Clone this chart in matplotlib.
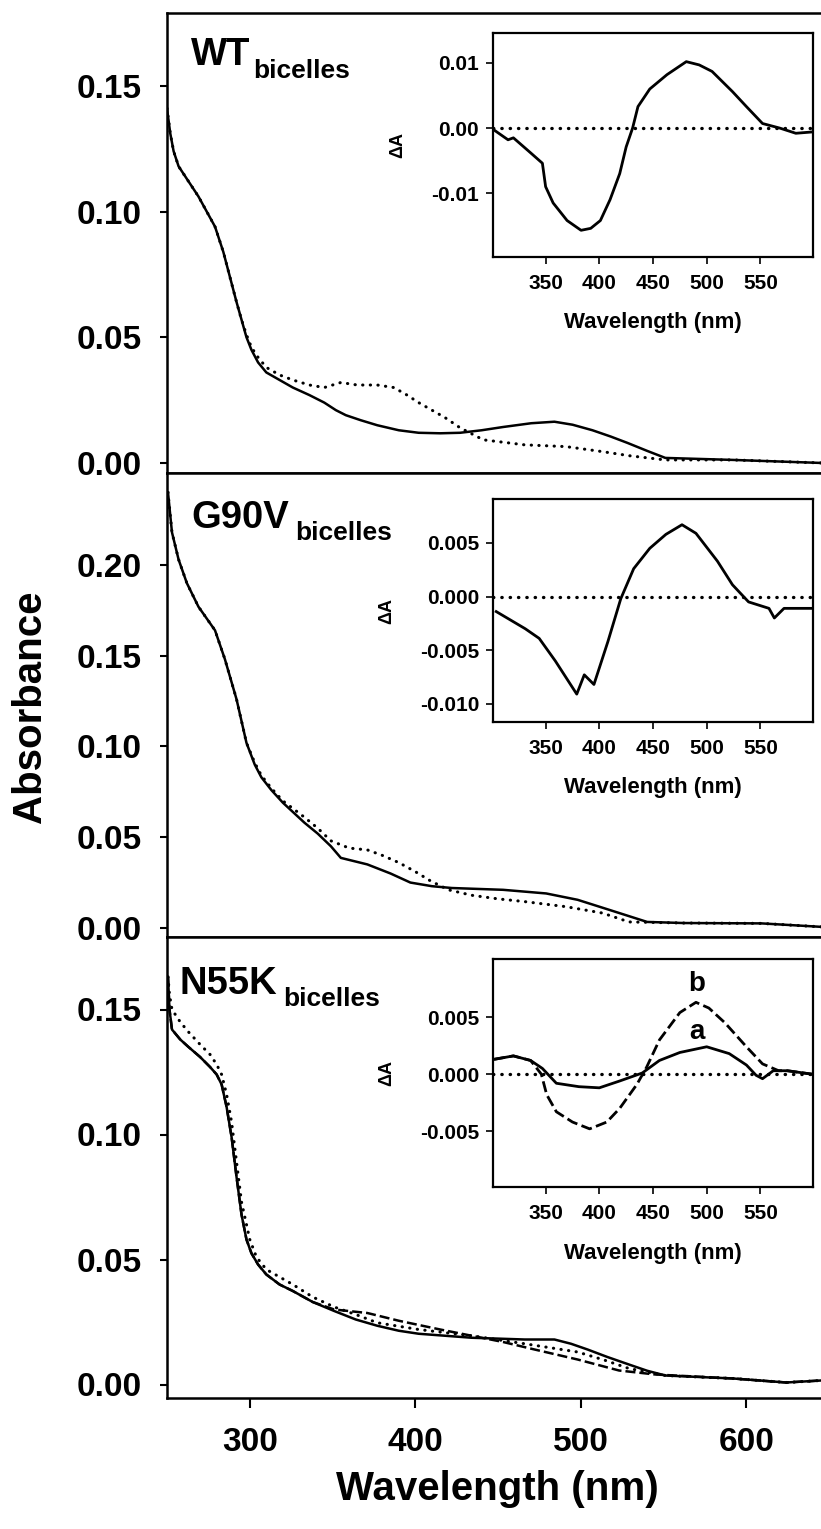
import matplotlib
matplotlib.use("Agg")
import matplotlib.pyplot as plt
from matplotlib.ticker import FormatStrFormatter

plt.rcParams["font.family"] = ["Liberation Sans", "DejaVu Sans"]
plt.rcParams["font.weight"] = "bold"

W, H = 821, 1529

# ---------- main spectra ----------
wt_wl = [250, 252, 254, 257, 269, 279, 284, 288, 292, 295, 298, 301, 305, 310, 318, 326, 336, 345, 352, 358, 367,
         377, 390, 402, 415, 427, 440, 453, 470, 484, 495, 507, 518, 528, 540, 551, 592, 645]
wt_solid = [0.141, 0.131, 0.124, 0.118, 0.106, 0.094, 0.084, 0.074, 0.064, 0.057, 0.050, 0.045, 0.040, 0.036,
            0.033, 0.030, 0.027, 0.024, 0.021, 0.019, 0.017, 0.015, 0.013, 0.012, 0.0118, 0.012, 0.013, 0.0143,
            0.0158, 0.0164, 0.0152, 0.013, 0.0105, 0.008, 0.0048, 0.002, 0.0012, 0.0]
wt_dot_wl = [250, 252, 254, 257, 269, 279, 284, 288, 292, 295, 298, 301, 305, 310, 318, 326, 336, 345, 355, 365,
             377, 387, 395, 402, 410, 418, 427, 441, 466, 491, 513, 530, 551, 592, 645]
wt_dot = [0.141, 0.131, 0.124, 0.118, 0.106, 0.094, 0.084, 0.074, 0.064, 0.057, 0.051, 0.046, 0.042, 0.038, 0.035,
          0.033, 0.031, 0.030, 0.032, 0.031, 0.031, 0.030, 0.027, 0.024, 0.021, 0.018, 0.014, 0.0092, 0.0072,
          0.0065, 0.0045, 0.0028, 0.0012, 0.0012, 0.0]

g_wl = [250.6, 253, 257, 262, 269, 279, 285, 292, 298, 303, 307, 313, 320, 333, 341, 349, 355, 371, 385, 397, 410,
        422, 453, 479, 498, 517, 540, 562, 609, 645]
g_solid = [0.240, 0.218, 0.203, 0.190, 0.177, 0.164, 0.148, 0.126, 0.102, 0.090, 0.083, 0.076, 0.069, 0.058, 0.052,
           0.045, 0.0386, 0.035, 0.030, 0.025, 0.023, 0.022, 0.021, 0.019, 0.0155, 0.010, 0.0033, 0.0027, 0.0025,
           0.0006]
g_dot_wl = [250.6, 253, 257, 262, 269, 279, 285, 292, 298, 303, 307, 313, 320, 333, 341, 349, 360, 371, 380, 390,
            400, 409, 420, 434, 450, 466, 491, 513, 529, 562, 609, 645]
g_dot = [0.240, 0.218, 0.203, 0.190, 0.177, 0.164, 0.148, 0.126, 0.102, 0.091, 0.084, 0.077, 0.070, 0.061, 0.055,
         0.048, 0.044, 0.043, 0.040, 0.036, 0.031, 0.026, 0.021, 0.018, 0.016, 0.0145, 0.0117, 0.0082, 0.0033,
         0.0027, 0.0025, 0.0006]

n_wl = [250.6, 251.5, 253, 258, 263, 270, 276, 280, 283, 286, 289, 292, 295, 298, 301, 305, 310, 318, 326, 338,
        351, 364, 377, 390, 402, 434, 466, 484, 494, 504, 516, 529, 540, 551, 592, 624, 645]
n_solid = [0.163, 0.150, 0.142, 0.138, 0.135, 0.131, 0.127, 0.124, 0.120, 0.111, 0.099, 0.083, 0.068, 0.058,
           0.0525, 0.048, 0.044, 0.040, 0.0374, 0.033, 0.0294, 0.026, 0.0235, 0.0215, 0.0203, 0.0187, 0.018, 0.018,
           0.0163, 0.014, 0.011, 0.008, 0.0055, 0.0036, 0.0024, 0.0008, 0.0016]
n_dot_wl = [250.6, 251.5, 253, 258, 263, 270, 276, 280, 283, 286, 289, 292, 295, 300, 304, 310, 318, 326, 338, 351,
            364, 377, 402, 434, 466, 498, 514, 529, 551, 592, 624, 645]
n_dot = [0.163, 0.156, 0.150, 0.145, 0.141, 0.136, 0.132, 0.128, 0.124, 0.116, 0.105, 0.089, 0.073, 0.058, 0.051,
         0.046, 0.043, 0.040, 0.035, 0.031, 0.028, 0.0247, 0.022, 0.0195, 0.0163, 0.013, 0.0098, 0.0064, 0.0036,
         0.0024, 0.0008, 0.0016]
n_dash_wl = [250.6, 251.5, 253, 258, 263, 270, 276, 280, 283, 286, 289, 292, 295, 298, 301, 305, 310, 318, 326, 338,
             351, 371, 390, 415, 434, 453, 472, 498, 523, 545, 592, 624, 645]
n_dash = [0.163, 0.150, 0.142, 0.138, 0.135, 0.131, 0.127, 0.124, 0.120, 0.111, 0.099, 0.083, 0.068, 0.058, 0.0525,
          0.048, 0.044, 0.040, 0.0374, 0.033, 0.030, 0.0286, 0.0255, 0.022, 0.0195, 0.017, 0.014, 0.010, 0.0056,
          0.004, 0.0024, 0.0008, 0.0016]

# ---------- difference spectra (insets) ----------
wt_d_wl = [302, 315, 320, 336, 347, 350, 357, 370, 383, 392, 401, 410, 419, 425, 431, 436, 447, 463, 481, 493, 505,
           524, 537, 552, 568, 583, 598]
wt_d = [-0.0003, -0.0018, -0.0015, -0.0038, -0.0054, -0.009, -0.0115, -0.0142, -0.0157, -0.0154, -0.0142, -0.011,
        -0.007, -0.0029, 0.0, 0.0033, 0.006, 0.0082, 0.0102, 0.0097, 0.0087, 0.0056, 0.0033, 0.0007, 0.0, -0.0008,
        -0.0006]
g_d_wl = [304, 331, 344, 359, 379, 386, 395, 408, 420, 432, 447, 462, 477, 490, 510, 524, 539, 558, 563, 572, 597]
g_d = [-0.0014, -0.003, -0.0039, -0.006, -0.0091, -0.0073, -0.0082, -0.0042, -0.0002, 0.0026, 0.0045, 0.0058,
       0.0067, 0.0059, 0.0033, 0.0011, -0.0005, -0.0011, -0.002, -0.0011, -0.0011]
n_a_wl = [302, 320, 336, 347, 360, 381, 400, 419, 440, 456, 475, 500, 521, 537, 546, 552, 562, 575, 598]
n_a = [0.0013, 0.0016, 0.0012, 0.0005, -0.0008, -0.0011, -0.0012, -0.0006, 0.0001, 0.0012, 0.0019, 0.0024, 0.0018,
       0.0008, -0.0001, -0.0004, 0.0003, 0.0003, 0.0]
n_b_wl = [302, 320, 336, 346, 351, 360, 375, 391, 407, 419, 435, 444, 456, 475, 490, 502, 517, 537, 552, 567, 575, 598]
n_b = [0.0013, 0.0016, 0.0012, 0.0, -0.0018, -0.0033, -0.0042, -0.0048, -0.0042, -0.003, -0.0009, 0.0006, 0.003,
       0.0054, 0.0063, 0.0058, 0.0045, 0.0024, 0.0009, 0.0003, 0.0003, 0.0]

main_ticks = [[0.0, 0.05, 0.10, 0.15], [0.0, 0.05, 0.10, 0.15, 0.20], [0.0, 0.05, 0.10, 0.15]]
main_ylims = [(-0.004, 0.179), (-0.005, 0.2507), (-0.0054, 0.179)]
inset_ticks = [[-0.01, 0.0, 0.01], [-0.010, -0.005, 0.0, 0.005], [-0.005, 0.0, 0.005]]
inset_fmt = ["%.2f", "%.3f", "%.3f"]
inset_ylims = [(-0.0198, 0.0146), (-0.0117, 0.0091), (-0.0099, 0.0101)]
names = ["WT", "G90V", "N55K"]

DOT = (0, (0.1, 2.4))
DASH = (0, (4, 1.6))


def fx(x):
    return x / W


def fy(y):
    return 1 - y / H


fig = plt.figure(figsize=(W / 100, H / 100), dpi=100)

# main panels (pixel top/bottom)
panel_px = [(13, 473), (473, 937), (937, 1398)]
inset_px = [(33, 257), (499, 722), (959, 1187)]
axes = []
insets = []
for i in range(3):
    t, b = panel_px[i]
    ax = fig.add_axes([fx(167), fy(b), 1 - fx(167), (b - t) / H])
    ax.set_xlim(250, 645)
    ax.set_ylim(*main_ylims[i])
    ax.set_yticks(main_ticks[i])
    ax.yaxis.set_major_formatter(FormatStrFormatter("%.2f"))
    ax.spines["right"].set_visible(False)
    for s in ["left", "top", "bottom"]:
        ax.spines[s].set_linewidth(1.8)
    ax.tick_params(axis="y", direction="out", length=5, width=1.5, pad=13, labelsize=24)
    if i < 2:
        ax.tick_params(axis="x", bottom=False, labelbottom=False)
    else:
        ax.set_xticks([300, 400, 500, 600])
        ax.tick_params(axis="x", direction="out", length=7, width=1.5, pad=14, labelsize=24)
    axes.append(ax)

    t, b = inset_px[i]
    ins = fig.add_axes([fx(493), fy(b), fx(813) - fx(493), (b - t) / H])
    ins.set_xlim(301, 599)
    ins.set_ylim(*inset_ylims[i])
    ins.set_xticks([350, 400, 450, 500, 550])
    ins.set_yticks(inset_ticks[i])
    ins.yaxis.set_major_formatter(FormatStrFormatter(inset_fmt[i]))
    for s in ins.spines.values():
        s.set_linewidth(1.6)
    ins.tick_params(axis="x", direction="out", length=5, width=1.2, pad=7, labelsize=15)
    ins.tick_params(axis="y", direction="out", length=5, width=1.2, pad=5, labelsize=15)
    ins.axhline(0, color="black", lw=2.4, linestyle=DOT, dash_capstyle="round")
    ins.set_xlabel("Wavelength (nm)", fontsize=16, fontweight="bold")
    ins.xaxis.set_label_coords(0.5, -0.245)
    ins.set_ylabel("\u0394A", fontsize=13, fontweight="bold")
    ins.yaxis.set_label_coords(-0.272 if i == 0 else -0.306, 0.5)
    insets.append(ins)

# main curves
axes[0].plot(wt_wl, wt_solid, color="black", lw=1.8)
axes[0].plot(wt_dot_wl, wt_dot, color="black", lw=2.2, linestyle=DOT, dash_capstyle="round")
axes[1].plot(g_wl, g_solid, color="black", lw=1.8)
axes[1].plot(g_dot_wl, g_dot, color="black", lw=2.2, linestyle=DOT, dash_capstyle="round")
axes[2].plot(n_wl, n_solid, color="black", lw=1.8)
axes[2].plot(n_dot_wl, n_dot, color="black", lw=2.2, linestyle=DOT, dash_capstyle="round")
axes[2].plot(n_dash_wl, n_dash, color="black", lw=1.8, linestyle=DASH)

# inset curves
insets[0].plot(wt_d_wl, wt_d, color="black", lw=2.0)
insets[1].plot(g_d_wl, g_d, color="black", lw=2.0)
insets[2].plot(n_a_wl, n_a, color="black", lw=2.0)
insets[2].plot(n_b_wl, n_b, color="black", lw=2.0, linestyle=DASH)
insets[2].text(490.7, 0.0079, "b", fontsize=20, fontweight="bold", ha="center", va="center")
insets[2].text(490.7, 0.0037, "a", fontsize=20, fontweight="bold", ha="center", va="center")

# panel labels
label_px = [((191, 65), (253, 78)), ((191, 528), (295, 540)), ((179, 994), (283, 1006))]
for name, (main_pos, sub_pos) in zip(names, label_px):
    fig.text(fx(main_pos[0]), fy(main_pos[1]), name, fontsize=27.5, fontweight="bold", va="baseline")
    fig.text(fx(sub_pos[0]), fy(sub_pos[1]), "bicelles", fontsize=19, fontweight="bold", va="baseline")

fig.text(fx(30), fy(707), "Absorbance", fontsize=29, fontweight="bold", rotation=90, ha="center", va="center")
fig.text(fx(497), fy(1489), "Wavelength (nm)", fontsize=29, fontweight="bold", ha="center", va="center")

fig.savefig("out.png", dpi=100)
